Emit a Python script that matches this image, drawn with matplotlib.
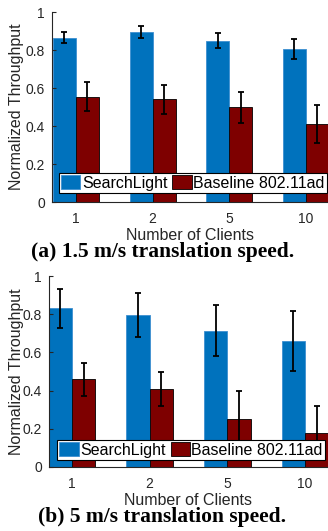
import numpy as np
import matplotlib.pyplot as plt

clients = ['1', '2', '5', '10']

# (a) 1.5 m/s
sl_a = [0.865, 0.895, 0.85, 0.805]
sl_a_err = [0.03, 0.033, 0.038, 0.052]
bl_a = [0.555, 0.541, 0.499, 0.41]
bl_a_err = [0.074, 0.076, 0.082, 0.10]

# (b) 5 m/s
sl_b = [0.831, 0.796, 0.714, 0.66]
sl_b_err = [0.102, 0.117, 0.135, 0.158]
bl_b = [0.459, 0.41, 0.253, 0.178]
bl_b_err = [0.086, 0.089, 0.143, 0.143]

W, H = 328, 531
plt.rcParams['font.family'] = ['Liberation Sans', 'DejaVu Sans']
fig = plt.figure(figsize=(W / 100, H / 100), dpi=100)

blue = '#0072BD'
red = '#7E0000'
grey = '#262626'


def panel(rect, xlim, sl, sl_err, bl, bl_err, caption, cap_y, xlab_y, leg_anchor):
    l, t, r, b = rect
    ax = fig.add_axes([l / W, 1 - b / H, (r - l) / W, (b - t) / H])
    x = np.arange(1, len(clients) + 1)
    w = 0.3
    ax.bar(x - w / 2, sl, w, color=blue, edgecolor='#3d8fd0', linewidth=0.6,
           label='SearchLight')
    ax.bar(x + w / 2, bl, w, color=red, edgecolor='black', linewidth=0.6,
           label='Baseline 802.11ad')
    ax.errorbar(x - w / 2, sl, yerr=sl_err, fmt='none', ecolor='black',
                elinewidth=1.3, capsize=2.2, capthick=1.3)
    ax.errorbar(x + w / 2, bl, yerr=bl_err, fmt='none', ecolor='black',
                elinewidth=1.3, capsize=2.2, capthick=1.3)
    ax.set_xlim(*xlim)
    ax.set_ylim(0, 1)
    ax.set_xticks(x)
    ax.set_xticklabels(clients)
    ax.set_yticks([0, 0.2, 0.4, 0.6, 0.8, 1])
    ax.set_yticklabels(['0', '0.2', '0.4', '0.6', '0.8', '1'])
    for s in ['top', 'right']:
        ax.spines[s].set_visible(False)
    for s in ['left', 'bottom']:
        ax.spines[s].set_color(grey)
        ax.spines[s].set_linewidth(0.8)
    ax.tick_params(direction='in', length=3, width=0.8, colors=grey,
                   labelsize=10, pad=5)
    ax.tick_params(axis='x', length=0, pad=7)
    ax.set_xlabel('Number of Clients', fontsize=11.5, color=grey, va='baseline')
    ax.xaxis.set_label_coords(0.5, -(xlab_y - b) / (b - t))
    ax.set_ylabel('Normalized Throughput', fontsize=11.5, color=grey)
    ax.yaxis.set_label_coords(-(l - 24) / (r - l), 0.5)
    leg = ax.legend(loc='lower left', bbox_to_anchor=leg_anchor, ncol=2,
                    fontsize=11.5, frameon=True, fancybox=False,
                    borderpad=0.15, handlelength=1.2, handleheight=1.0,
                    handletextpad=0.1, columnspacing=0.3, borderaxespad=0)
    leg.get_frame().set_edgecolor('black')
    leg.get_frame().set_linewidth(0.8)
    leg.get_frame().set_alpha(1)
    for txt in leg.get_texts():
        txt.set_color('black')
    fig.text(0.495, 1 - cap_y / H, caption, ha='center', va='baseline',
             fontsize=15.5, fontweight='bold', family='Liberation Serif')
    return ax


panel((52, 12, 328, 202), (0.687, 4.287), sl_a, sl_a_err, bl_a, bl_a_err,
      '(a) 1.5 m/s translation speed.', 257, 240, (0.025, 0.047))
panel((49, 276, 328, 467), (0.704, 4.296), sl_b, sl_b_err, bl_b, bl_b_err,
      '(b) 5 m/s translation speed.', 522, 505, (0.029, 0.037))

fig.savefig('out.png', dpi=100)
